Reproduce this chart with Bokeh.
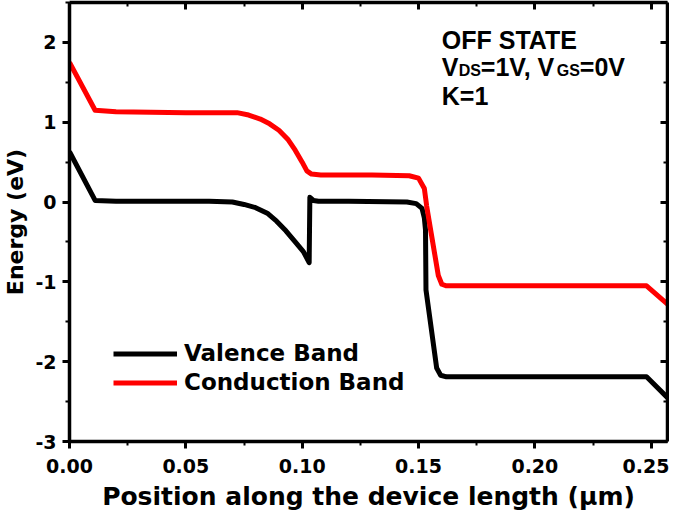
from bokeh.plotting import figure
from bokeh.models import (Range1d, LinearAxis, Legend, LegendItem, Label,
                          SingleIntervalTicker, NumeralTickFormatter,
                          CustomJSTickFormatter)
from bokeh.embed import file_html
from bokeh.resources import INLINE

# ---- data ----
vb_x = [0.0, 0.011, 0.02, 0.06, 0.070, 0.075, 0.080, 0.085, 0.089, 0.093, 0.097,
        0.1005, 0.1030, 0.1033, 0.1048, 0.107, 0.12, 0.145, 0.149, 0.1515, 0.1525,
        0.153, 0.1532, 0.1578, 0.1595, 0.162, 0.20, 0.248, 0.257]
vb_y = [0.63, 0.02, 0.01, 0.01, 0.0, -0.03, -0.07, -0.14, -0.24, -0.36, -0.50,
        -0.62, -0.76, 0.06, 0.02, 0.01, 0.01, 0.0, -0.02, -0.08, -0.20,
        -0.35, -1.10, -2.08, -2.17, -2.19, -2.19, -2.19, -2.45]

cb_x = [0.0, 0.011, 0.02, 0.05, 0.072, 0.077, 0.082, 0.086, 0.090, 0.094, 0.097,
        0.100, 0.102, 0.104, 0.108, 0.13, 0.146, 0.150, 0.1525, 0.1535, 0.1555,
        0.1585, 0.160, 0.162, 0.20, 0.248, 0.257]
cb_y = [1.75, 1.15, 1.13, 1.12, 1.12, 1.09, 1.04, 0.98, 0.90, 0.78, 0.65,
        0.50, 0.39, 0.35, 0.34, 0.34, 0.33, 0.30, 0.17, -0.05, -0.40,
        -0.92, -1.03, -1.05, -1.05, -1.05, -1.28]

series_names = ["Valence Band", "Conduction Band"]
series_colors = ["black", "#ff0000"]

x_label = "Position along the device length (\u03bcm)"
y_label = "Energy (eV)"

FONT = "DejaVu Sans"
NOTE_FONT = "Liberation Sans"

p = figure(width=669, height=513, output_backend="svg", toolbar_location=None,
           x_range=Range1d(0, 0.257), y_range=Range1d(-3, 2.5),
           min_border_left=64, min_border_right=2, min_border_top=2,
           min_border_bottom=72, x_axis_label=x_label, y_axis_label=y_label)
p.grid.visible = False
p.outline_line_color = None
p.background_fill_color = "white"
p.border_fill_color = "white"

r_vb = p.line(vb_x, vb_y, line_color=series_colors[0], line_width=5, line_join="round")
r_cb = p.line(cb_x, cb_y, line_color=series_colors[1], line_width=5, line_join="round")


def style_axis(ax, inward=False):
    ax.axis_line_width = 3.5
    ax.axis_line_color = "black"
    ax.major_tick_line_width = 3
    ax.minor_tick_line_width = 2
    ax.major_tick_line_color = "black"
    ax.minor_tick_line_color = "black"
    if inward:
        ax.major_tick_in = 7
        ax.major_tick_out = 0
        ax.minor_tick_in = 4
        ax.minor_tick_out = 0
    else:
        ax.major_tick_in = 0
        ax.major_tick_out = 7
        ax.minor_tick_in = 0
        ax.minor_tick_out = 4
    ax.major_label_text_font = FONT
    ax.major_label_text_font_style = "bold"
    ax.major_label_text_font_size = "19px"
    ax.major_label_text_color = "black"
    ax.axis_label_text_font = FONT
    ax.axis_label_text_font_style = "bold"
    ax.axis_label_text_color = "black"


xb = p.xaxis[0]
yl = p.yaxis[0]
xb.ticker = SingleIntervalTicker(interval=0.05, num_minor_ticks=2)
xb.formatter = NumeralTickFormatter(format="0.00")
yl.ticker = SingleIntervalTicker(interval=1, num_minor_ticks=2)
yl.formatter = NumeralTickFormatter(format="0")
style_axis(xb)
style_axis(yl)
xb.axis_label_text_font_size = "25px"
yl.axis_label_text_font_size = "22px"
xb.major_label_standoff = 10
xb.axis_label_standoff = 6
yl.major_label_standoff = 6
yl.axis_label_standoff = 4

xt = LinearAxis(ticker=SingleIntervalTicker(interval=0.05, num_minor_ticks=2),
                formatter=CustomJSTickFormatter(code="return ''"))
yr = LinearAxis(ticker=SingleIntervalTicker(interval=1, num_minor_ticks=2),
                formatter=CustomJSTickFormatter(code="return ''"))
style_axis(xt, inward=True)
style_axis(yr, inward=True)
xt.major_label_standoff = 0
yr.major_label_standoff = 0
p.add_layout(xt, "above")
p.add_layout(yr, "right")

legend = Legend(items=[LegendItem(label=series_names[0], renderers=[r_vb]),
                       LegendItem(label=series_names[1], renderers=[r_cb])],
                location=(44, 46), border_line_color=None,
                background_fill_alpha=0, label_text_font=FONT,
                label_text_font_style="bold", label_text_font_size="23px",
                label_text_color="black",
                glyph_width=64, glyph_height=25, label_height=25, spacing=3,
                padding=10, label_standoff=7)
p.add_layout(legend, "center")

# annotation text
ax0 = 0.160


def lab(text, x_off, y, size="25px"):
    p.add_layout(Label(x=ax0, y=y, x_offset=x_off, text=text, text_font=NOTE_FONT,
                       text_font_style="bold", text_font_size=size,
                       text_color="black", text_baseline="alphabetic"))


lab("OFF STATE", 0, 2.03)
lab("V", 0, 1.687)
lab("DS", 17, 1.649, "16px")
lab("=1V, V", 39, 1.687)
lab("GS", 115, 1.649, "16px")
lab("=0V", 138, 1.687)
lab("K=1", 0, 1.331)

open("out.html", "w").write(file_html(p, INLINE))
